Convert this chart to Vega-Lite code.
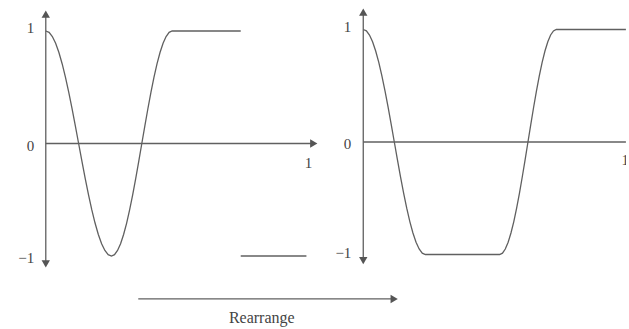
{
  "$schema": "https://vega.github.io/schema/vega-lite/v6.json",
  "width": 629,
  "height": 329,
  "padding": 0,
  "autosize": {"type": "fit", "contains": "padding"},
  "background": "white",
  "config": {"view": {"stroke": null}, "text": {"font": "Liberation Serif", "color": "#444444"}},
  "resolve": {"scale": {"x": "independent", "y": "independent"}},
  "layer": [
    {
      "layer": [
        {
          "data": {"values": [
            {"x": 0, "y": 1, "s": "a"}, {"x": 0.0125, "y": 0.9877, "s": "a"}, {"x": 0.025, "y": 0.9511, "s": "a"}, {"x": 0.0375, "y": 0.891, "s": "a"}, {"x": 0.05, "y": 0.809, "s": "a"}, {"x": 0.0625, "y": 0.7071, "s": "a"}, {"x": 0.075, "y": 0.5878, "s": "a"}, {"x": 0.0875, "y": 0.454, "s": "a"}, {"x": 0.1, "y": 0.309, "s": "a"}, {"x": 0.1125, "y": 0.1564, "s": "a"}, {"x": 0.125, "y": 0, "s": "a"}, {"x": 0.1375, "y": -0.1564, "s": "a"}, {"x": 0.15, "y": -0.309, "s": "a"}, {"x": 0.1625, "y": -0.454, "s": "a"}, {"x": 0.175, "y": -0.5878, "s": "a"}, {"x": 0.1875, "y": -0.7071, "s": "a"}, {"x": 0.2, "y": -0.809, "s": "a"}, {"x": 0.2125, "y": -0.891, "s": "a"}, {"x": 0.225, "y": -0.9511, "s": "a"}, {"x": 0.2375, "y": -0.9877, "s": "a"}, {"x": 0.25, "y": -1, "s": "a"},
            {"x": 0.2616, "y": -0.9877, "s": "a"}, {"x": 0.2731, "y": -0.9511, "s": "a"}, {"x": 0.2847, "y": -0.891, "s": "a"}, {"x": 0.2962, "y": -0.809, "s": "a"}, {"x": 0.3078, "y": -0.7071, "s": "a"}, {"x": 0.3193, "y": -0.5878, "s": "a"}, {"x": 0.3309, "y": -0.454, "s": "a"}, {"x": 0.3424, "y": -0.309, "s": "a"}, {"x": 0.354, "y": -0.1564, "s": "a"}, {"x": 0.3655, "y": 0, "s": "a"}, {"x": 0.3771, "y": 0.1564, "s": "a"}, {"x": 0.3886, "y": 0.309, "s": "a"}, {"x": 0.4002, "y": 0.454, "s": "a"}, {"x": 0.4117, "y": 0.5878, "s": "a"}, {"x": 0.4233, "y": 0.7071, "s": "a"}, {"x": 0.4348, "y": 0.809, "s": "a"}, {"x": 0.4464, "y": 0.891, "s": "a"}, {"x": 0.4579, "y": 0.9511, "s": "a"}, {"x": 0.4695, "y": 0.9877, "s": "a"}, {"x": 0.481, "y": 1, "s": "a"}, {"x": 0.742, "y": 1, "s": "a"},
            {"x": 0.742, "y": -1, "s": "b"}, {"x": 0.992, "y": -1, "s": "b"}
          ]},
          "mark": {"type": "line", "color": "#606060", "strokeWidth": 1.3},
          "encoding": {
            "x": {"field": "x", "type": "quantitative", "axis": null, "scale": {"domain": [-0.17424, 2.20833], "nice": false, "zero": false}},
            "y": {"field": "y", "type": "quantitative", "axis": null, "scale": {"domain": [-1.64889, 1.27556], "nice": false, "zero": false}},
            "detail": {"field": "s"}
          }
        },
        {
          "data": {"values": [
            {"x": 0, "y": -1.07, "x2": 0, "y2": 1.15},
            {"x": 0, "y": 0, "x2": 1.025, "y2": 0},
            {"x": 0.352, "y": -1.382, "x2": 1.33, "y2": -1.382}
          ]},
          "mark": {"type": "rule", "color": "#606060", "strokeWidth": 1.3},
          "encoding": {
            "x": {"field": "x", "type": "quantitative", "axis": null, "scale": {"domain": [-0.17424, 2.20833], "nice": false, "zero": false}},
            "y": {"field": "y", "type": "quantitative", "axis": null, "scale": {"domain": [-1.64889, 1.27556], "nice": false, "zero": false}},
            "x2": {"field": "x2"},
            "y2": {"field": "y2"}
          }
        },
        {
          "data": {"values": [{"x": 0, "y": 1.15}]},
          "mark": {"type": "point", "shape": "triangle-up", "filled": true, "color": "#555555", "size": 70, "opacity": 1},
          "encoding": {
            "x": {"field": "x", "type": "quantitative", "axis": null, "scale": {"domain": [-0.17424, 2.20833], "nice": false, "zero": false}},
            "y": {"field": "y", "type": "quantitative", "axis": null, "scale": {"domain": [-1.64889, 1.27556], "nice": false, "zero": false}}
          }
        },
        {
          "data": {"values": [{"x": 0, "y": -1.07}]},
          "mark": {"type": "point", "shape": "triangle-down", "filled": true, "color": "#555555", "size": 70, "opacity": 1},
          "encoding": {
            "x": {"field": "x", "type": "quantitative", "axis": null, "scale": {"domain": [-0.17424, 2.20833], "nice": false, "zero": false}},
            "y": {"field": "y", "type": "quantitative", "axis": null, "scale": {"domain": [-1.64889, 1.27556], "nice": false, "zero": false}}
          }
        },
        {
          "data": {"values": [{"x": 1.02, "y": 0}, {"x": 1.326, "y": -1.382}]},
          "mark": {"type": "point", "shape": "triangle-right", "filled": true, "color": "#555555", "size": 70, "opacity": 1},
          "encoding": {
            "x": {"field": "x", "type": "quantitative", "axis": null, "scale": {"domain": [-0.17424, 2.20833], "nice": false, "zero": false}},
            "y": {"field": "y", "type": "quantitative", "axis": null, "scale": {"domain": [-1.64889, 1.27556], "nice": false, "zero": false}}
          }
        },
        {
          "data": {"values": [
            {"x": -0.0436, "y": 1.025, "t": "1"},
            {"x": -0.0436, "y": -0.02, "t": "0"},
            {"x": -0.0436, "y": -1.015, "t": "−1"}
          ]},
          "mark": {"type": "text", "align": "right", "baseline": "middle", "fontSize": 15},
          "encoding": {
            "x": {"field": "x", "type": "quantitative", "axis": null, "scale": {"domain": [-0.17424, 2.20833], "nice": false, "zero": false}},
            "y": {"field": "y", "type": "quantitative", "axis": null, "scale": {"domain": [-1.64889, 1.27556], "nice": false, "zero": false}},
            "text": {"field": "t"}
          }
        },
        {
          "data": {"values": [{"x": 1.0, "y": -0.173, "t": "1"}]},
          "mark": {"type": "text", "align": "center", "baseline": "middle", "fontSize": 15},
          "encoding": {
            "x": {"field": "x", "type": "quantitative", "axis": null, "scale": {"domain": [-0.17424, 2.20833], "nice": false, "zero": false}},
            "y": {"field": "y", "type": "quantitative", "axis": null, "scale": {"domain": [-1.64889, 1.27556], "nice": false, "zero": false}},
            "text": {"field": "t"}
          }
        },
        {
          "data": {"values": [{"x": 0.822, "y": -1.551, "t": "Rearrange"}]},
          "mark": {"type": "text", "align": "center", "baseline": "middle", "fontSize": 16},
          "encoding": {
            "x": {"field": "x", "type": "quantitative", "axis": null, "scale": {"domain": [-0.17424, 2.20833], "nice": false, "zero": false}},
            "y": {"field": "y", "type": "quantitative", "axis": null, "scale": {"domain": [-1.64889, 1.27556], "nice": false, "zero": false}},
            "text": {"field": "t"}
          }
        }
      ]
    },
    {
      "layer": [
        {
          "data": {"values": [
            {"x": 0, "y": 1}, {"x": 0.012, "y": 0.9877}, {"x": 0.024, "y": 0.9511}, {"x": 0.036, "y": 0.891}, {"x": 0.048, "y": 0.809}, {"x": 0.06, "y": 0.7071}, {"x": 0.072, "y": 0.5878}, {"x": 0.084, "y": 0.454}, {"x": 0.096, "y": 0.309}, {"x": 0.108, "y": 0.1564}, {"x": 0.12, "y": 0}, {"x": 0.132, "y": -0.1564}, {"x": 0.144, "y": -0.309}, {"x": 0.156, "y": -0.454}, {"x": 0.168, "y": -0.5878}, {"x": 0.18, "y": -0.7071}, {"x": 0.192, "y": -0.809}, {"x": 0.204, "y": -0.891}, {"x": 0.216, "y": -0.9511}, {"x": 0.228, "y": -0.9877}, {"x": 0.24, "y": -1},
            {"x": 0.527, "y": -1}, {"x": 0.538, "y": -0.9877}, {"x": 0.5489, "y": -0.9511}, {"x": 0.5599, "y": -0.891}, {"x": 0.5708, "y": -0.809}, {"x": 0.5818, "y": -0.7071}, {"x": 0.5927, "y": -0.5878}, {"x": 0.6037, "y": -0.454}, {"x": 0.6146, "y": -0.309}, {"x": 0.6256, "y": -0.1564}, {"x": 0.6365, "y": 0}, {"x": 0.6475, "y": 0.1564}, {"x": 0.6584, "y": 0.309}, {"x": 0.6694, "y": 0.454}, {"x": 0.6803, "y": 0.5878}, {"x": 0.6913, "y": 0.7071}, {"x": 0.7022, "y": 0.809}, {"x": 0.7132, "y": 0.891}, {"x": 0.7241, "y": 0.9511}, {"x": 0.7351, "y": 0.9877}, {"x": 0.746, "y": 1}, {"x": 1.015, "y": 1}
          ]},
          "mark": {"type": "line", "color": "#606060", "strokeWidth": 1.3},
          "encoding": {
            "x": {"field": "x", "type": "quantitative", "axis": null, "scale": {"domain": [-1.40385, 1.01538], "nice": false, "zero": false}},
            "y": {"field": "y", "type": "quantitative", "axis": null, "scale": {"domain": [-1.66222, 1.26222], "nice": false, "zero": false}}
          }
        },
        {
          "data": {"values": [
            {"x": 0, "y": -1.055, "x2": 0, "y2": 1.155},
            {"x": 0, "y": 0, "x2": 1.015, "y2": 0}
          ]},
          "mark": {"type": "rule", "color": "#606060", "strokeWidth": 1.3},
          "encoding": {
            "x": {"field": "x", "type": "quantitative", "axis": null, "scale": {"domain": [-1.40385, 1.01538], "nice": false, "zero": false}},
            "y": {"field": "y", "type": "quantitative", "axis": null, "scale": {"domain": [-1.66222, 1.26222], "nice": false, "zero": false}},
            "x2": {"field": "x2"},
            "y2": {"field": "y2"}
          }
        },
        {
          "data": {"values": [{"x": 0, "y": 1.155}]},
          "mark": {"type": "point", "shape": "triangle-up", "filled": true, "color": "#555555", "size": 70, "opacity": 1},
          "encoding": {
            "x": {"field": "x", "type": "quantitative", "axis": null, "scale": {"domain": [-1.40385, 1.01538], "nice": false, "zero": false}},
            "y": {"field": "y", "type": "quantitative", "axis": null, "scale": {"domain": [-1.66222, 1.26222], "nice": false, "zero": false}}
          }
        },
        {
          "data": {"values": [{"x": 0, "y": -1.055}]},
          "mark": {"type": "point", "shape": "triangle-down", "filled": true, "color": "#555555", "size": 70, "opacity": 1},
          "encoding": {
            "x": {"field": "x", "type": "quantitative", "axis": null, "scale": {"domain": [-1.40385, 1.01538], "nice": false, "zero": false}},
            "y": {"field": "y", "type": "quantitative", "axis": null, "scale": {"domain": [-1.66222, 1.26222], "nice": false, "zero": false}}
          }
        },
        {
          "data": {"values": [
            {"x": -0.046, "y": 1.022, "t": "1"},
            {"x": -0.046, "y": -0.018, "t": "0"},
            {"x": -0.046, "y": -0.991, "t": "−1"}
          ]},
          "mark": {"type": "text", "align": "right", "baseline": "middle", "fontSize": 15},
          "encoding": {
            "x": {"field": "x", "type": "quantitative", "axis": null, "scale": {"domain": [-1.40385, 1.01538], "nice": false, "zero": false}},
            "y": {"field": "y", "type": "quantitative", "axis": null, "scale": {"domain": [-1.66222, 1.26222], "nice": false, "zero": false}},
            "text": {"field": "t"}
          }
        },
        {
          "data": {"values": [{"x": 1.012, "y": -0.16, "t": "1"}]},
          "mark": {"type": "text", "align": "center", "baseline": "middle", "fontSize": 15, "clip": true},
          "encoding": {
            "x": {"field": "x", "type": "quantitative", "axis": null, "scale": {"domain": [-1.40385, 1.01538], "nice": false, "zero": false}},
            "y": {"field": "y", "type": "quantitative", "axis": null, "scale": {"domain": [-1.66222, 1.26222], "nice": false, "zero": false}},
            "text": {"field": "t"}
          }
        }
      ]
    }
  ]
}
